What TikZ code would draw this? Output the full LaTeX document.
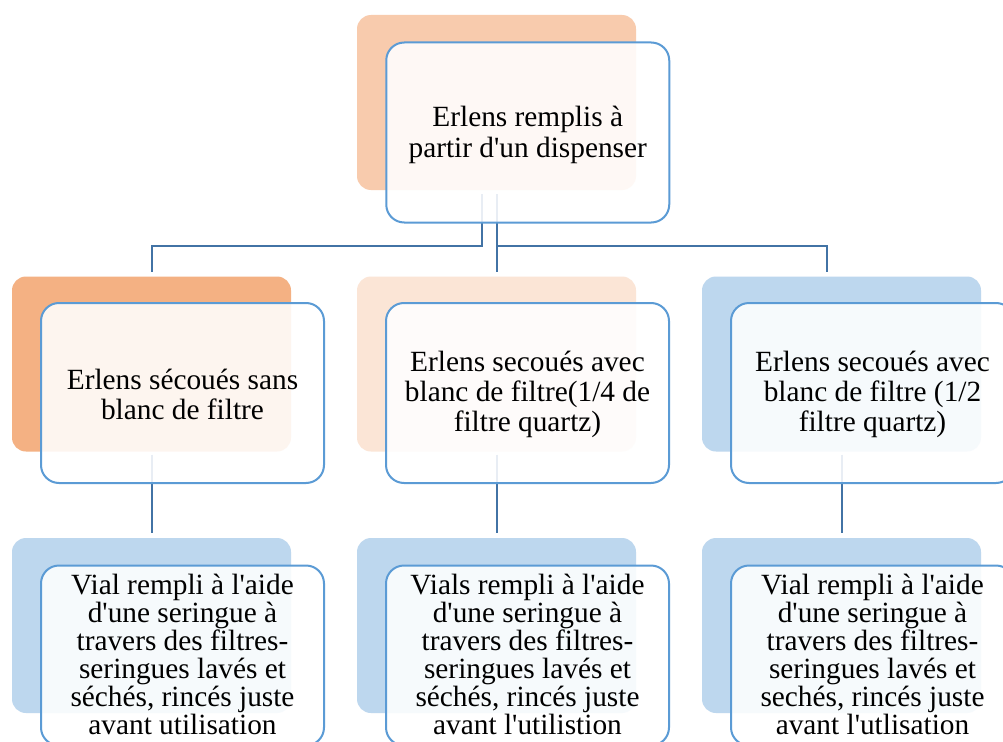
\documentclass[tikz,border=0pt]{standalone}
\usepackage{fontspec}
\setmainfont{Liberation Serif}
\usetikzlibrary{calc}
\definecolor{bOrangeA}{HTML}{F8CBAD}
\definecolor{bOrangeB}{HTML}{F4B183}
\definecolor{bOrangeC}{HTML}{FBE5D6}
\definecolor{bBlue}{HTML}{BDD7EE}
\definecolor{fBorder}{HTML}{5B9BD5}
\definecolor{connCol}{HTML}{4273A5}
\newcommand{\aq}{\textquotesingle}
\tikzset{
  backbox/.style={rectangle, rounded corners=10.5pt, minimum width=209.25pt, minimum height=131.25pt, inner sep=0pt, outer sep=0pt},
  frontbox/.style={rectangle, rounded corners=13.5pt, draw=fBorder, line width=1.5pt, fill=white, fill opacity=0.88, minimum width=212.25pt, minimum height=135pt, inner sep=0pt, outer sep=0pt},
  boxtext/.style={inner sep=0pt, align=center, font=\fontsize{22pt}{22.5pt}\selectfont},
  toptext/.style={boxtext, font=\fontsize{22pt}{23.6pt}\selectfont},
  lowtext/.style={boxtext, font=\fontsize{22pt}{21pt}\selectfont},
  conn/.style={draw=connCol, line width=1.5pt}
}
\begin{document}
\begin{tikzpicture}[x=0.75pt,y=-0.75pt]
\clip (0,0) rectangle (1003,742);
\fill[white] (0,0) rectangle (1003,742);
% back boxes
\node[backbox, fill=bOrangeA] (tb) at (496.5,102.5) {};
\node[backbox, fill=bOrangeB] (lb1) at (151.5,364) {};
\node[backbox, fill=bOrangeC] (mb1) at (496.5,364) {};
\node[backbox, fill=bBlue] (rb1) at (841.5,364) {};
\node[backbox, fill=bBlue] (lb2) at (151.5,625.5) {};
\node[backbox, fill=bBlue] (mb2) at (496.5,625.5) {};
\node[backbox, fill=bBlue] (rb2) at (841.5,625.5) {};
% connectors
\draw[conn] ($(tb.south)+(-14.5,4)$) -- ++(0,52) -| ($(lb1.north)+(0,-5)$);
\draw[conn] ($(tb.south)+(0,4)$) -- ($(mb1.north)+(0,-5)$);
\draw[conn] ($(tb.south)+(0,56)$) -| ($(rb1.north)+(-15,-5)$);
\draw[conn] ($(lb1.south)+(0,3)$) -- ($(lb2.north)+(0,-5)$);
\draw[conn] ($(mb1.south)+(0,3)$) -- ($(mb2.north)+(0,-5)$);
\draw[conn] ($(rb1.south)+(0,3)$) -- ($(rb2.north)+(0,-5)$);
% front boxes
\node[frontbox] (tf) at (527.75,132.5) {};
\node[frontbox] (lf1) at (182.5,393) {};
\node[frontbox] (mf1) at (527.5,393) {};
\node[frontbox] (rf1) at (872.5,393) {};
\node[frontbox] (lf2) at (182.5,655.5) {};
\node[frontbox] (mf2) at (527.5,655.5) {};
\node[frontbox] (rf2) at (872.5,655.5) {};
% texts
\node[toptext] (tt) at ($(tf.center)+(0,2.5)$) {Erlens remplis à\\partir d\aq un dispenser};
\node[boxtext] (lt1) at ($(lf1.center)+(0,1)$) {Erlens sécoués sans\\blanc de filtre};
\node[boxtext] (mt1) at ($(mf1.center)+(0,1.5)$) {Erlens secoués avec\\blanc de filtre(1/4 de\\filtre quartz)};
\node[boxtext] (rt1) at ($(rf1.center)+(0,1.5)$) {Erlens secoués avec\\blanc de filtre (1/2\\filtre quartz)};
\node[lowtext] (lt2) at ($(lf2.center)+(0,-1)$) {Vial rempli à l\aq aide\\d\aq une seringue à\\travers des filtres-\\seringues lavés et\\séchés, rincés juste\\avant utilisation};
\node[lowtext] (mt2) at ($(mf2.center)+(0,-1)$) {Vials rempli à l\aq aide\\d\aq une seringue à\\travers des filtres-\\seringues lavés et\\séchés, rincés juste\\avant l\aq utilistion};
\node[lowtext] (rt2) at ($(rf2.center)+(0,-1)$) {Vial rempli à l\aq aide\\d\aq une seringue à\\travers des filtres-\\seringues lavés et\\sechés, rincés juste\\avant l\aq utlisation};
\end{tikzpicture}
\end{document}
